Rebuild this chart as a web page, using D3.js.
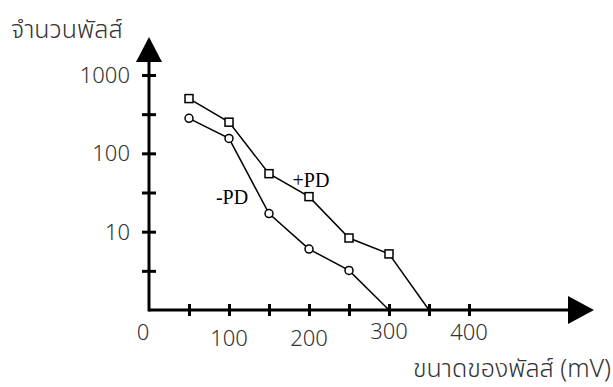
<!DOCTYPE html>
<html>
<head>
<meta charset="utf-8">
<script src="https://cdn.jsdelivr.net/npm/d3@7"></script>
<style>
  body { margin: 0; background: #fff; }
  svg { display: block; }
</style>
</head>
<body>
<div id="container"></div>
<script>
/* CONSTANTS AND GLOBALS */
const width = 613;
const height = 387;

/* DATA */
const pulseSize = [50, 100, 150, 200, 250, 300, 350];   // mV
const plusPD = [500, 250, 55, 28, 8.3, 5.2, 1];
const minusPD = [280, 155, 17, 6, 3.2, 1];
const xTickValues = [50, 100, 150, 200, 250, 300, 350, 400];
const xTickLabels = [0, 100, 200, 300, 400];
const yTickValues = [1000, 316.2, 100, 31.62, 10, 3.162];
const yTickLabels = [1000, 100, 10];

/* SCALES */
const xScale = d3.scaleLinear().domain([0, 400]).range([149, 469]);
const yScale = d3.scaleLog().domain([1, 1000]).range([310, 75]);

/* SVG ELEMENT */
const svg = d3.select("#container")
  .append("svg")
  .attr("width", width)
  .attr("height", height);

const sans = "'Noto Sans Thai', 'Noto Sans', 'DejaVu Sans', sans-serif";
const textColor = "#333";

/* AXES */
const xAxis = svg.append("g")
  .attr("transform", `translate(0, ${yScale(1)})`)
  .call(d3.axisBottom(xScale).tickValues(xTickValues).tickFormat("").tickSizeOuter(0));
xAxis.select(".domain").remove();
xAxis.selectAll(".tick line").attr("y1", -6).attr("y2", 6)
  .attr("stroke", "#000").attr("stroke-width", 3);

const yAxis = svg.append("g")
  .attr("transform", `translate(${xScale(0)}, 0)`)
  .call(d3.axisLeft(yScale).tickValues(yTickValues).tickFormat("").tickSizeOuter(0));
yAxis.select(".domain").remove();
yAxis.selectAll(".tick line").attr("x1", -7).attr("x2", 7)
  .attr("stroke", "#000").attr("stroke-width", 3);

// axis lines with arrows
svg.append("path")
  .attr("d", `M${xScale(0)},${yScale(1)}H570`)
  .attr("stroke", "#000").attr("stroke-width", 3).attr("fill", "none");
svg.append("path")
  .attr("d", `M568,${yScale(1) - 14}L594,${yScale(1)}L568,${yScale(1) + 14}Z`)
  .attr("fill", "#000");
svg.append("path")
  .attr("d", `M${xScale(0)},${yScale(1) + 1.5}V60`)
  .attr("stroke", "#000").attr("stroke-width", 3).attr("fill", "none");
svg.append("path")
  .attr("d", `M${xScale(0) - 13},62L${xScale(0)},37L${xScale(0) + 13},62Z`)
  .attr("fill", "#000");

/* TICK LABELS */
const xLabelDy = { 0: 0, 100: 6, 200: 6, 300: -1, 400: 0 };
svg.selectAll(".xlab")
  .data(xTickLabels)
  .join("text")
  .attr("class", "xlab")
  .attr("x", d => d === 0 ? xScale(d) - 6 : xScale(d))
  .attr("y", d => 340 + xLabelDy[d])
  .attr("text-anchor", "middle")
  .style("font-family", sans)
  .style("font-size", "22px")
  .style("font-weight", 300)
  .attr("fill", textColor)
  .text(d => d);

svg.selectAll(".ylab")
  .data(yTickLabels)
  .join("text")
  .attr("class", "ylab")
  .attr("x", 130)
  .attr("y", d => yScale(d) + 8)
  .attr("text-anchor", "end")
  .style("font-family", sans)
  .style("font-size", "22px")
  .style("font-weight", 300)
  .attr("fill", textColor)
  .text(d => d);

/* AXIS TITLES */
svg.append("text")
  .attr("x", 11)
  .attr("y", 38)
  .style("font-family", sans)
  .style("font-size", "25px")
  .style("font-weight", 300)
  .attr("fill", textColor)
  .text("จำนวนพัลส์");

svg.append("text")
  .attr("x", 611)
  .attr("y", 377)
  .attr("text-anchor", "end")
  .style("font-family", sans)
  .style("font-size", "25px")
  .style("font-weight", 300)
  .attr("fill", textColor)
  .text("ขนาดของพัลส์ (mV)");

/* LINES */
const line = d3.line()
  .x((d, i) => xScale(pulseSize[i]))
  .y(d => yScale(d));

svg.append("path")
  .datum(plusPD)
  .attr("d", line)
  .attr("fill", "none").attr("stroke", "#000").attr("stroke-width", 1.5);

svg.append("path")
  .datum(minusPD)
  .attr("d", line)
  .attr("fill", "none").attr("stroke", "#000").attr("stroke-width", 1.5);

/* MARKERS (last point sits on the axis, no marker) */
svg.selectAll(".sq")
  .data(plusPD.slice(0, -1))
  .join("rect")
  .attr("class", "sq")
  .attr("x", (d, i) => xScale(pulseSize[i]) - 4)
  .attr("y", d => yScale(d) - 4)
  .attr("width", 8).attr("height", 8)
  .attr("fill", "#fff").attr("stroke", "#000").attr("stroke-width", 1.5);

svg.selectAll(".dot")
  .data(minusPD.slice(0, -1))
  .join("circle")
  .attr("class", "dot")
  .attr("cx", (d, i) => xScale(pulseSize[i]))
  .attr("cy", d => yScale(d))
  .attr("r", 4)
  .attr("fill", "#fff").attr("stroke", "#000").attr("stroke-width", 1.5);

/* SERIES LABELS */
svg.append("text")
  .attr("x", xScale(200) + 2)
  .attr("y", 187)
  .attr("text-anchor", "middle")
  .style("font-family", "'Liberation Serif', serif")
  .style("font-size", "20px")
  .text("+PD");

svg.append("text")
  .attr("x", xScale(100) + 3)
  .attr("y", 204)
  .attr("text-anchor", "middle")
  .style("font-family", "'Liberation Serif', serif")
  .style("font-size", "20px")
  .text("-PD");
</script>
</body>
</html>
